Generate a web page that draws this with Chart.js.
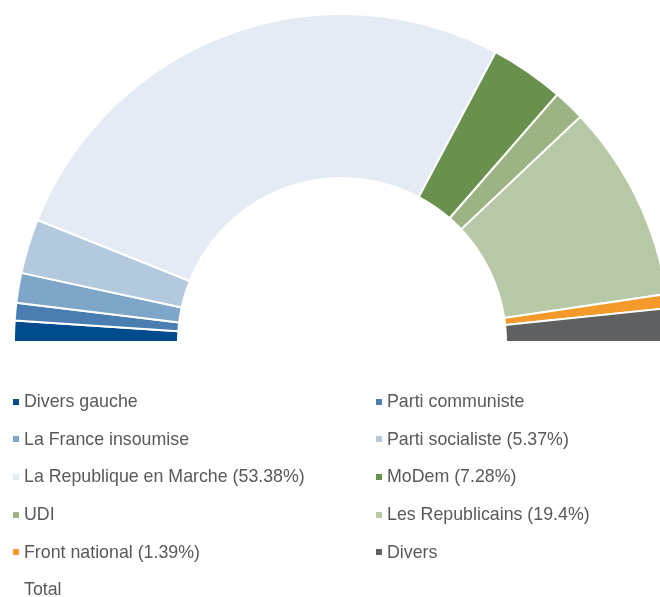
<!DOCTYPE html>
<html>
<head>
<meta charset="utf-8">
<script src="https://cdn.jsdelivr.net/npm/chart.js@4"></script>
<style>
  html, body { margin: 0; padding: 0; background: #fff; overflow: hidden; }
  body { width: 660px; height: 597px; position: relative; }
  #wrap { position: absolute; left: 13px; top: 13px; width: 658px; height: 658px; }
  #legend {
    position: absolute; left: 13px; top: 383px;
    display: grid; grid-template-columns: 363px 284px;
    font-family: "Liberation Sans", Arial, sans-serif; font-size: 17.8px; color: #595959;
  }
  .item { height: 37.6px; display: flex; align-items: center; white-space: nowrap; }
  .box { width: 6px; height: 6px; margin-right: 5px; flex: none; }
</style>
</head>
<body>
<div id="wrap"><canvas id="chart"></canvas></div>
<div id="legend"></div>
<script>
  const labels = [
    "Divers gauche",
    "Parti communiste",
    "La France insoumise",
    "Parti socialiste (5.37%)",
    "La Republique en Marche (53.38%)",
    "MoDem (7.28%)",
    "UDI",
    "Les Republicains (19.4%)",
    "Front national (1.39%)",
    "Divers",
    "Total"
  ];

  // seats out of 577; "Total" fills the hidden lower half
  const seats = [12, 10, 17, 31, 308, 42, 18, 112, 8, 19, 577];

  const colors = [
    "#004b8d", "#4a7eb0", "#7ea6c9", "#b3c9de", "#e4ebf4",
    "#6a904d", "#9cb483", "#b7c8a7", "#f39a2b", "#5f6062", "rgba(0,0,0,0)"
  ];

  const chart = new Chart(document.getElementById("chart"), {
    type: "doughnut",
    data: {
      labels,
      datasets: [{
        data: seats,
        backgroundColor: colors,
        borderColor: labels.map((l) => l === "Total" ? "rgba(0,0,0,0)" : "#ffffff"),
        borderWidth: 2
      }]
    },
    options: {
      responsive: true,
      maintainAspectRatio: false,
      animation: false,
      rotation: -90,
      cutout: "50%",
      layout: { padding: 0 },
      plugins: {
        legend: { display: false },
        tooltip: { enabled: false }
      }
    }
  });

  const legend = document.getElementById("legend");
  legend.innerHTML = chart.data.labels.map((label, i) => {
    const color = chart.data.datasets[0].backgroundColor[i];
    return `<div class="item"><span class="box" style="background:${color}"></span>${label}</div>`;
  }).join("");
</script>
</body>
</html>
